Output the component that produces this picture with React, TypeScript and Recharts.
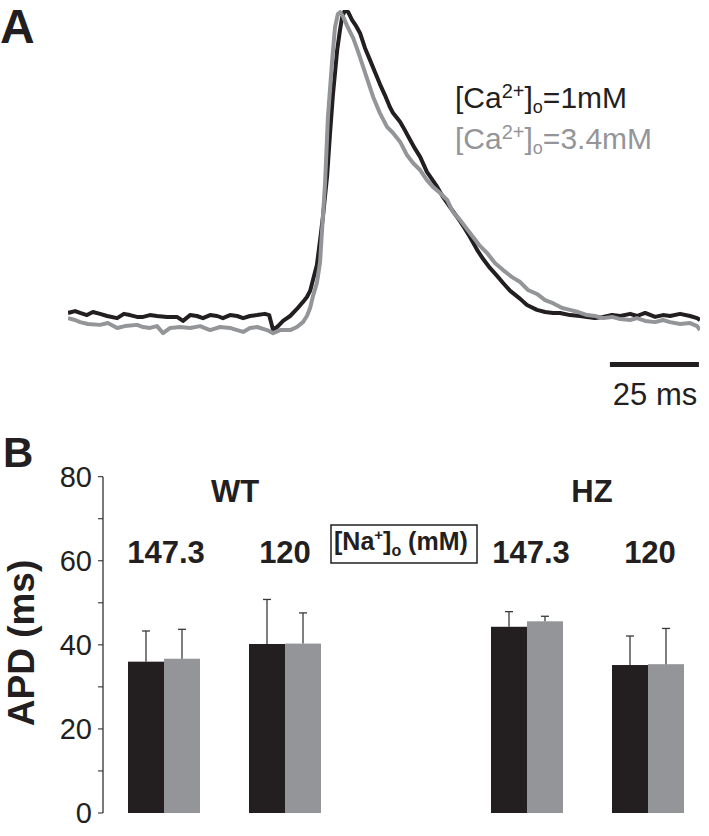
import React from 'react';
import { LineChart, Line, XAxis, YAxis, ReferenceLine, BarChart, Bar } from 'recharts';

const FONT = '"Liberation Sans", Arial, Helvetica, sans-serif';
const BLACK = '#231f20';
const GRAY = '#939598';

// ---------- Panel A: action potential traces (time in ms, amplitude in % of peak) ----------
const timeCa1 = [
  0, 2.0, 3.4, 5.3, 7.0, 9.0, 11.0, 13.8, 15.7, 17.4, 19.4, 21.1, 23.0, 25.0, 27.8, 30.6, 32.3, 34.3,
  36.2, 37.9, 39.9, 41.9, 43.5, 45.5, 47.5, 49.2, 51.1, 53.1, 55.3, 56.5, 57.6, 59.0, 60.4, 62.4, 64.3,
  66.0, 67.1, 68.0, 68.8, 69.9, 70.8, 71.6, 72.8, 73.6, 74.4, 75.6, 76.4, 77.0, 77.8, 78.7, 79.8, 80.9,
  82.0, 83.4, 84.8, 86.2, 87.6, 89.0, 90.4, 91.3, 93.3, 94.1, 96.1, 97.5, 98.9, 100.8, 103.7, 105.3,
  107.3, 110.1, 111.0, 112.9, 114.9, 116.6, 118.5, 120.5, 122.2, 124.2, 127.0, 128.9, 131.7, 134.0,
  136.2, 138.2, 141.0, 143.8, 145.8, 148.0, 150.3, 152.8, 155.1, 157.9, 159.8, 162.1, 164.9, 167.1,
  169.1, 171.9, 174.7, 176.7, 177.5,
];
const ampCa1 = [
  1.0, 1.6, 1.0, 0.3, 1.3, 0.7, 0, -0.7, 0.7, 0.3, -0.3, -0.3, 0.3, 0, -0.3, -0.3, -1.6, 0.3,
  0, -0.7, 0.3, 0, -0.7, 0.3, 0, -0.7, 0, 0.3, 0.7, 0.3, -4.6, -3.3, -1.6, 0, 2.3,
  4.6, 6.2, 8.2, 11.8, 16.7, 24.8, 32.4, 46.1, 59.8, 72.2, 86.9, 93.5, 97.7, 100, 99.3, 96.7, 94.8,
  92.5, 87.6, 83.7, 79.7, 75.8, 72.2, 68.3, 66.3, 63.4, 61.8, 57.5, 54.6, 52.0, 47.1, 42.2, 38.9,
  35.6, 31.0, 29.4, 25.8, 21.6, 18.6, 15.7, 13.1, 10.8, 8.2, 5.6, 3.6, 2.0, 1.3,
  1.0, 1.0, 0.3, 0, -0.3, -0.7, -0.3, 0.3, 0, 0.7, 0, 1.0, -0.3, 0.3,
  0, 0.7, 0, -0.7, -1.3,
];
const timeCa34 = [
  0, 2.0, 3.4, 5.6, 9.0, 11.2, 13.8, 16.0, 19.4, 21.1, 23.0, 25.0, 26.7, 28.7, 31.5, 34.3, 37.1, 39.9,
  42.7, 45.5, 47.5, 49.2, 51.1, 53.1, 55.9, 57.6, 59.6, 62.4, 64.3, 66.0, 67.1, 68.0, 68.8, 69.9, 70.8,
  71.3, 72.2, 73.0, 74.2, 75.0, 75.8, 76.4, 77.2, 78.4, 80.1, 81.5, 82.9, 84.3, 85.7, 87.6, 89.6, 91.3,
  93.3, 95.2, 96.9, 98.9, 100.8, 102.5, 104.5, 106.5, 108.1, 110.1, 112.9, 115.7, 117.7, 119.9, 122.2,
  124.7, 127.0, 129.2, 131.7, 134.0, 136.2, 138.8, 141.0, 143.3, 145.8, 148.0, 150.3, 152.8, 155.1,
  157.9, 159.8, 162.1, 164.9, 167.1, 169.1, 171.9, 174.7, 176.7, 177.5,
];
const ampCa34 = [
  -0.7, -1.3, -2.0, -2.6, -2.9, -2.3, -3.9, -3.3, -2.9, -3.6, -3.9, -3.3, -5.6, -3.9, -3.6, -3.9, -3.3, -4.6,
  -3.6, -3.9, -4.6, -5.2, -3.9, -3.6, -4.6, -5.6, -4.6, -4.6, -3.6, -2.0, 0, 2.6, 6.5, 10.8, 17.6,
  27.1, 43.5, 65.0, 83.7, 94.4, 98.7, 99.3, 98.0, 94.8, 90.8, 86.3, 81.4, 76.5, 71.6, 66.3, 61.8, 59.8,
  56.9, 52.6, 50.0, 47.7, 44.4, 42.2, 40.2, 37.9, 34.0, 31.4, 27.1, 22.9, 20.6, 17.3, 15.0,
  12.7, 11.1, 8.5, 7.2, 5.2, 4.2, 2.6, 2.0, 1.3, 0.3, 0, -0.7, -0.3, -1.0,
  -1.3, -0.7, -1.6, -2.0, -1.3, -2.0, -2.6, -2.3, -3.3, -4.6,
];
const scaleBarStart = 152.2; // ms
const scaleBarLength = 25; // ms
const scaleBarLevel = -15.85;

const traceCa1 = timeCa1.map((t, i) => ({ t, v: ampCa1[i] }));
const traceCa34 = timeCa34.map((t, i) => ({ t, v: ampCa34[i] }));

// ---------- Panel B: APD bars ----------
const categories = ['WT 147.3', 'WT 120', '', 'HZ 147.3', 'HZ 120'];
const apdCa1 = [36.0, 40.2, null, 44.3, 35.2];
const apdCa34 = [36.7, 40.3, null, 45.6, 35.4];
const errCa1 = [7.3, 10.6, null, 3.6, 6.9];
const errCa34 = [7.0, 7.3, null, 1.2, 8.5];
const yTicks = [0, 10, 20, 30, 40, 50, 60, 70, 80];

const barData = categories.map((c, i) => ({
  cat: c,
  ca1: apdCa1[i],
  ca34: apdCa34[i],
  e1: errCa1[i],
  e34: errCa34[i],
}));

// Bar with an upward-only error whisker; whisker length uses the bar's own scale (height / value)
const barWithWhisker = (errKey: string) => (props: any) => {
  const { x, y, width, height, fill, payload, value } = props;
  if (x == null || y == null || !height) return <g />;
  const v = Array.isArray(value) ? value[1] - value[0] : value;
  const err = payload ? payload[errKey] : null;
  const cx = x + width / 2;
  let whisker = null;
  if (err != null && v) {
    const top = y - (err * height) / v;
    whisker = (
      <g stroke="#3a3a3a" strokeWidth={1.3}>
        <line x1={cx} y1={y} x2={cx} y2={top} />
        <line x1={cx - 4} y1={top} x2={cx + 4} y2={top} />
      </g>
    );
  }
  return (
    <g>
      <rect x={x} y={y} width={width} height={height} fill={fill} />
      {whisker}
    </g>
  );
};

export default function App() {
  return (
    <div style={{ position: 'relative', width: 709, height: 836, background: '#fff', fontFamily: FONT }}>
      <style>{'body{margin:0;background:#fff}'}</style>
      <div style={{ position: 'absolute', left: 0, top: 0 }}>
        <LineChart width={709} height={420} margin={{ top: 10, right: 9, left: 68, bottom: 27.5 }}>
          <XAxis type="number" dataKey="t" domain={[0, 177.5]} hide allowDataOverflow />
          <YAxis type="number" domain={[-25, 100]} hide allowDataOverflow />
          <Line data={traceCa1} dataKey="v" stroke={BLACK} strokeWidth={4} dot={false} isAnimationActive={false} strokeLinejoin="round" />
          <Line data={traceCa34} dataKey="v" stroke={GRAY} strokeWidth={4} dot={false} isAnimationActive={false} strokeLinejoin="round" />
          <ReferenceLine
            segment={[
              { x: scaleBarStart, y: scaleBarLevel },
              { x: scaleBarStart + scaleBarLength, y: scaleBarLevel },
            ]}
            stroke={BLACK}
            strokeWidth={5}
          />
        </LineChart>
      </div>
      <div style={{ position: 'absolute', left: 0, top: 420 }}>
        <BarChart
          width={709}
          height={416}
          data={barData}
          margin={{ top: 56.7, right: 1, left: 0, bottom: 23 }}
          barGap={0}
          barSize={36}
        >
          <XAxis dataKey="cat" tick={false} tickLine={false} height={0} axisLine={{ stroke: BLACK, strokeWidth: 1.3 }} />
          <YAxis
            type="number"
            domain={[0, 80]}
            ticks={yTicks}
            interval={0}
            width={103}
            tickSize={5}
            tickMargin={6}
            tickFormatter={(v: number) => (v % 20 === 0 ? String(v) : '')}
            tick={{ fontSize: 29, fill: BLACK, fontFamily: FONT }}
            tickLine={{ stroke: BLACK, strokeWidth: 1 }}
            axisLine={{ stroke: BLACK, strokeWidth: 1.2 }}
          />
          <Bar dataKey="ca1" fill={BLACK} isAnimationActive={false} shape={barWithWhisker('e1')} />
          <Bar dataKey="ca34" fill={GRAY} isAnimationActive={false} shape={barWithWhisker('e34')} />
        </BarChart>
      </div>
      <svg
        width={709}
        height={836}
        style={{ position: 'absolute', left: 0, top: 0, pointerEvents: 'none' }}
        fontFamily={FONT}
      >
        {/* Panel A */}
        <text x={0} y={43} fontSize={48} fontWeight="bold" fill={BLACK}>A</text>
        <text x={455} y={108} fontSize={30} fill={BLACK}>
          [Ca<tspan fontSize={20} dy={-10}>2+</tspan>
          <tspan dy={10}>]</tspan>
          <tspan fontSize={18} dy={5}>o</tspan>
          <tspan dy={-5}>=1mM</tspan>
        </text>
        <text x={455} y={149} fontSize={30} fill={GRAY}>
          [Ca<tspan fontSize={20} dy={-10}>2+</tspan>
          <tspan dy={10}>]</tspan>
          <tspan fontSize={18} dy={5}>o</tspan>
          <tspan dy={-5}>=3.4mM</tspan>
        </text>
        <text x={655} y={405} fontSize={31} fill={BLACK} textAnchor="middle">25 ms</text>

        {/* Panel B */}
        <text x={3} y={467} fontSize={42} fontWeight="bold" fill={BLACK}>B</text>
        <text x={34} y={643} fontSize={37} fontWeight="bold" fill={BLACK} textAnchor="middle" transform="rotate(-90 34 643)">
          APD (ms)
        </text>
        <text x={235} y={502} fontSize={31} fontWeight="bold" fill={BLACK} textAnchor="middle">WT</text>
        <text x={592} y={502} fontSize={31} fontWeight="bold" fill={BLACK} textAnchor="middle">HZ</text>
        <text x={166} y={563} fontSize={31} fontWeight="bold" fill={BLACK} textAnchor="middle">147.3</text>
        <text x={285} y={563} fontSize={31} fontWeight="bold" fill={BLACK} textAnchor="middle">120</text>
        <text x={531} y={563} fontSize={31} fontWeight="bold" fill={BLACK} textAnchor="middle">147.3</text>
        <text x={650} y={563} fontSize={31} fontWeight="bold" fill={BLACK} textAnchor="middle">120</text>
        <rect x={331} y={525} width={146} height={38} fill="none" stroke={BLACK} strokeWidth={1.5} />
        <text x={334} y={550} fontSize={25} fontWeight="bold" fill={BLACK}>
          [Na<tspan fontSize={15} dy={-10}>+</tspan>
          <tspan dy={10}>]</tspan>
          <tspan fontSize={16} dy={6}>o</tspan>
          <tspan dy={-6}> (mM)</tspan>
        </text>
      </svg>
    </div>
  );
}
